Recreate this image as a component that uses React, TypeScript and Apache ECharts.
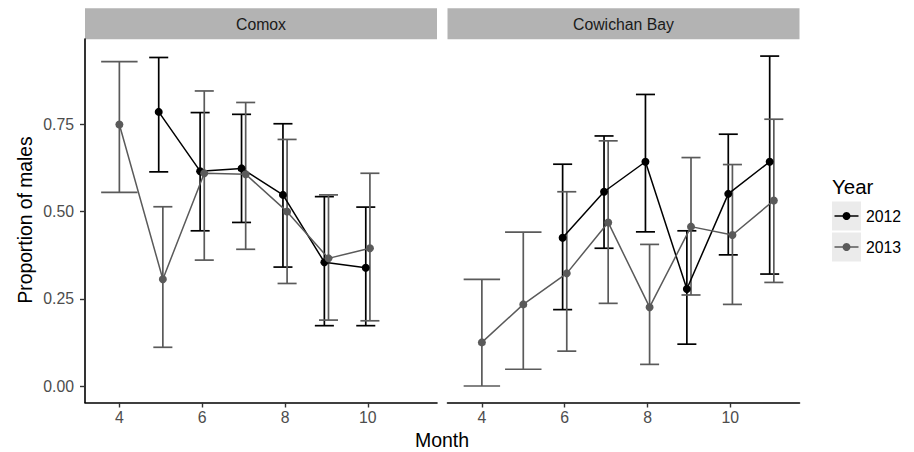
import React, { useEffect, useRef } from "react";
import * as echarts from "echarts";

const siteNames = ["Comox", "Cowichan Bay"];
const yearNames = ["2012", "2013"];
const xTickValues = [4, 6, 8, 10];
const yTickValues = [0, 0.25, 0.5, 0.75];

// Comox
const comox2012Months = [5, 6, 7, 8, 9, 10];
const comox2012Value = [0.786, 0.616, 0.624, 0.548, 0.355, 0.339];
const comox2012Low = [0.614, 0.445, 0.469, 0.341, 0.173, 0.173];
const comox2012High = [0.942, 0.784, 0.779, 0.752, 0.543, 0.513];

const comox2013Months = [4, 5, 6, 7, 8, 9, 10];
const comox2013Value = [0.75, 0.306, 0.61, 0.607, 0.5, 0.366, 0.395];
const comox2013Low = [0.555, 0.111, 0.361, 0.392, 0.294, 0.189, 0.187];
const comox2013High = [0.93, 0.514, 0.846, 0.813, 0.707, 0.548, 0.61];

// Cowichan Bay
const cowichan2012Months = [6, 7, 8, 9, 10, 11];
const cowichan2012Value = [0.425, 0.557, 0.643, 0.278, 0.551, 0.643];
const cowichan2012Low = [0.219, 0.395, 0.442, 0.12, 0.376, 0.321];
const cowichan2012High = [0.636, 0.717, 0.836, 0.445, 0.722, 0.946];

const cowichan2013Months = [4, 5, 6, 7, 8, 9, 10, 11];
const cowichan2013Value = [0.125, 0.234, 0.323, 0.469, 0.226, 0.457, 0.433, 0.532];
const cowichan2013Low = [0.0, 0.048, 0.1, 0.237, 0.062, 0.261, 0.234, 0.297];
const cowichan2013High = [0.306, 0.441, 0.557, 0.703, 0.406, 0.655, 0.635, 0.765];

const COLORS = ["#000000", "#5a5a5a"];
const FONT = "'Liberation Sans', Arial, Helvetica, sans-serif";
const DODGE = 0.05;
const HW_PAIR = 0.23;
const HW_SINGLE = 0.44;

type Group = { months: number[]; value: number[]; low: number[]; high: number[] };

function buildPanelSeries(gridIndex: number, groups: Group[]) {
  const errSeries: any[] = [];
  const lineSeries: any[] = [];
  groups.forEach((g, gi) => {
    const other = groups[1 - gi];
    const sign = gi === 0 ? -1 : 1;
    const errData: number[][] = [];
    const ptData: number[][] = [];
    g.months.forEach((m, i) => {
      const paired = other.months.indexOf(m) >= 0;
      const x = paired ? m + sign * DODGE : m;
      const hw = paired ? HW_PAIR : HW_SINGLE;
      errData.push([x, g.low[i], g.high[i], hw]);
      ptData.push([x, g.value[i]]);
    });
    const color = COLORS[gi];
    errSeries.push({
      type: "custom",
      name: yearNames[gi],
      xAxisIndex: gridIndex,
      yAxisIndex: gridIndex,
      clip: false,
      encode: { x: 0, y: [1, 2] },
      data: errData,
      renderItem: (params: any, api: any) => {
        const x = api.value(0);
        const lo = api.value(1);
        const hi = api.value(2);
        const hw = api.value(3);
        const top = api.coord([x, hi]);
        const bot = api.coord([x, lo]);
        const tl = api.coord([x - hw, hi]);
        const tr = api.coord([x + hw, hi]);
        const bl = api.coord([x - hw, lo]);
        const br = api.coord([x + hw, lo]);
        const style = { stroke: color, lineWidth: 1.7 };
        return {
          type: "group",
          children: [
            { type: "line", shape: { x1: top[0], y1: top[1], x2: bot[0], y2: bot[1] }, style },
            { type: "line", shape: { x1: tl[0], y1: tl[1], x2: tr[0], y2: tr[1] }, style },
            { type: "line", shape: { x1: bl[0], y1: bl[1], x2: br[0], y2: br[1] }, style },
          ],
        };
      },
    });
    lineSeries.push({
      type: "line",
      name: yearNames[gi],
      xAxisIndex: gridIndex,
      yAxisIndex: gridIndex,
      data: ptData,
      symbol: "circle",
      symbolSize: 8,
      showSymbol: true,
      lineStyle: { color, width: 1.5 },
      itemStyle: { color },
      clip: false,
    });
  });
  return [...errSeries, ...lineSeries];
}

export default function App() {
  const ref = useRef<HTMLDivElement>(null);
  useEffect(() => {
    if (!ref.current) return;
    const chart = echarts.init(ref.current, undefined, { renderer: "svg" });
    const grids = [
      { left: 85, top: 39, width: 352, height: 363.5 },
      { left: 447.5, top: 39, width: 352, height: 363.5 },
    ];
    const xAxes = grids.map((_, i) => ({
      type: "value",
      gridIndex: i,
      min: 3.17,
      max: 11.67,
      splitLine: { show: false },
      axisLine: { show: true, onZero: false, lineStyle: { color: "#000", width: 1.6 } },
      axisTick: { show: true, length: 5, customValues: xTickValues, lineStyle: { color: "#333", width: 1.4 } },
      axisLabel: {
        customValues: xTickValues,
        color: "#4d4d4d",
        fontSize: 15.8,
        fontFamily: FONT,
        margin: 7,
      },
    }));
    const yAxes = grids.map((_, i) => ({
      type: "value",
      gridIndex: i,
      min: -0.0473,
      max: 0.995,
      show: i === 0,
      splitLine: { show: false },
      axisLine: { show: true, onZero: false, lineStyle: { color: "#000", width: 1.6 } },
      axisTick: { show: true, length: 5, customValues: yTickValues, lineStyle: { color: "#333", width: 1.4 } },
      axisLabel: {
        customValues: yTickValues,
        formatter: (v: number) => v.toFixed(2),
        color: "#4d4d4d",
        fontSize: 15.8,
        fontFamily: FONT,
        margin: 11,
      },
    }));

    const series = [
      ...buildPanelSeries(0, [
        { months: comox2012Months, value: comox2012Value, low: comox2012Low, high: comox2012High },
        { months: comox2013Months, value: comox2013Value, low: comox2013Low, high: comox2013High },
      ]),
      ...buildPanelSeries(1, [
        { months: cowichan2012Months, value: cowichan2012Value, low: cowichan2012Low, high: cowichan2012High },
        { months: cowichan2013Months, value: cowichan2013Value, low: cowichan2013Low, high: cowichan2013High },
      ]),
    ];

    const strips: any[] = [];
    grids.forEach((g, i) => {
      strips.push({
        type: "rect",
        shape: { x: g.left, y: 8.3, width: g.width, height: 31 },
        style: { fill: "#b3b3b3" },
      });
      strips.push({
        type: "text",
        x: g.left + g.width / 2,
        y: 24,
        style: {
          text: siteNames[i],
          fill: "#1a1a1a",
          font: `15.8px ${FONT}`,
          align: "center",
          verticalAlign: "middle",
        },
      });
    });

    const legend: any[] = [
      {
        type: "text",
        x: 832,
        y: 186,
        style: { text: "Year", fill: "#000", font: `20.5px ${FONT}`, align: "left", verticalAlign: "middle" },
      },
    ];
    yearNames.forEach((yr, i) => {
      const top = 201.5 + i * 31;
      const cy = top + 14.5;
      legend.push({ type: "rect", shape: { x: 832, y: top, width: 29, height: 29 }, style: { fill: "#ebebeb" } });
      legend.push({ type: "line", shape: { x1: 834.5, y1: cy, x2: 858.5, y2: cy }, style: { stroke: COLORS[i], lineWidth: 1.5 } });
      legend.push({ type: "circle", shape: { cx: 846.5, cy, r: 4 }, style: { fill: COLORS[i] } });
      legend.push({
        type: "text",
        x: 866,
        y: cy,
        style: { text: yr, fill: "#000", font: `15.8px ${FONT}`, align: "left", verticalAlign: "middle" },
      });
    });

    const titles: any[] = [
      {
        type: "text",
        x: 442,
        y: 440,
        style: { text: "Month", fill: "#000", font: `19.5px ${FONT}`, align: "center", verticalAlign: "middle" },
      },
      {
        type: "text",
        x: 25,
        y: 220,
        rotation: Math.PI / 2,
        style: { text: "Proportion of males", fill: "#000", font: `19.3px ${FONT}`, align: "center", verticalAlign: "middle" },
      },
    ];

    chart.setOption({
      animation: false,
      backgroundColor: "#ffffff",
      grid: grids,
      xAxis: xAxes,
      yAxis: yAxes,
      series,
      graphic: [...strips, ...legend, ...titles],
    });
    return () => chart.dispose();
  }, []);
  return <div ref={ref} style={{ position: "fixed", left: 0, top: 0, width: 914, height: 452 }} />;
}
